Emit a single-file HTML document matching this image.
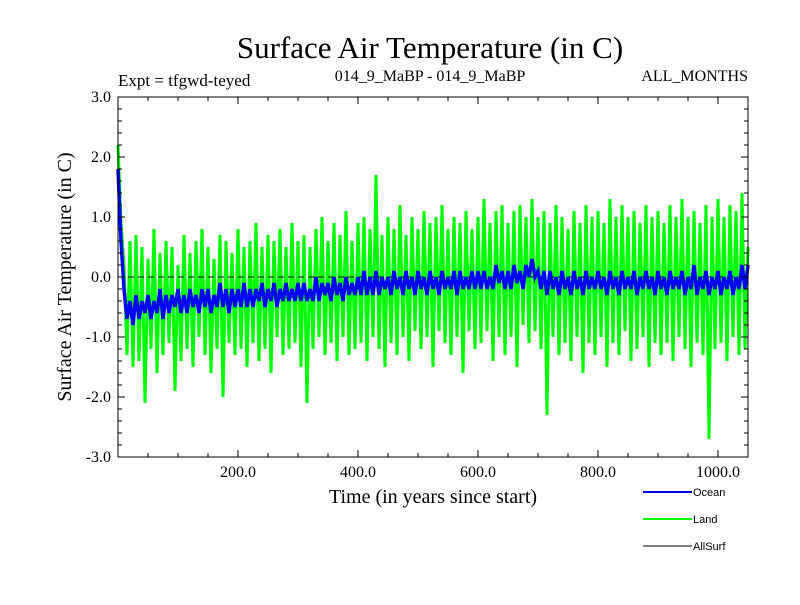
<!DOCTYPE html>
<html><head><meta charset="utf-8"><style>
body{margin:0;background:#fff}
svg text{font-family:"Liberation Serif",serif}
</style></head><body>
<svg id="chart" width="800" height="600" xmlns="http://www.w3.org/2000/svg">
<text x="430" y="58" font-size="31" text-anchor="middle">Surface Air Temperature (in C)</text>
<text x="118" y="86" font-size="17">Expt = tfgwd-teyed</text>
<text x="430" y="81" font-size="16" text-anchor="middle">014_9_MaBP - 014_9_MaBP</text>
<text x="748" y="81" font-size="16" text-anchor="end">ALL_MONTHS</text>
<text x="433" y="503" font-size="20" text-anchor="middle">Time (in years since start)</text>
<text transform="translate(71,277) rotate(-90)" font-size="20" text-anchor="middle">Surface Air Temperature (in C)</text>
<g id="plot"></g>
<g id="axes"></g>
<g>
<line x1="643" y1="492" x2="692" y2="492" stroke="#0000ff" stroke-width="2"/>
<text x="693" y="496" font-size="11" style="font-family:'Liberation Sans',sans-serif">Ocean</text>
<line x1="643" y1="519" x2="692" y2="519" stroke="#00ff00" stroke-width="2"/>
<text x="693" y="523" font-size="11" style="font-family:'Liberation Sans',sans-serif">Land</text>
<line x1="643" y1="546" x2="692" y2="546" stroke="#000" stroke-width="1"/>
<text x="693" y="550" font-size="11" style="font-family:'Liberation Sans',sans-serif">AllSurf</text>
</g>
</svg>
<script>
const yearStep = 5;
const landValues = [
2.2,0.9,0.2,-1.3,0.6,-1.5,0.7,-1.4,0.5,-2.1,
0.3,-1.2,0.8,-1.6,0.4,-1.3,0.6,-1.1,0.5,-1.9,
0.2,-1.4,0.7,-1.2,0.4,-1.5,0.6,-1.0,0.8,-1.3,
0.5,-1.6,0.3,-1.2,0.7,-2.0,0.6,-1.1,0.4,-1.3,
0.8,-1.2,0.5,-1.5,0.6,-1.1,0.9,-1.4,0.5,-1.2,
0.7,-1.6,0.6,-1.0,0.8,-1.3,0.5,-1.2,0.9,-1.1,
0.6,-1.5,0.7,-2.1,0.5,-1.2,0.8,-1.0,1.0,-1.3,
0.6,-1.1,0.9,-1.4,0.7,-1.0,1.1,-1.3,0.6,-1.2,
0.9,-1.1,1.0,-1.4,0.8,-1.0,1.7,-1.2,0.7,-1.5,
1.0,-1.1,0.8,-1.3,1.2,-1.0,0.7,-1.4,1.0,-0.9,
0.8,-1.2,1.1,-1.0,0.9,-1.5,1.0,-0.9,1.2,-1.1,
0.8,-1.3,1.0,-1.0,0.9,-1.6,1.1,-0.9,0.8,-1.2,
1.0,-1.1,1.3,-0.9,0.9,-1.4,1.1,-1.0,1.2,-1.3,
0.9,-1.0,1.1,-1.5,1.2,-0.8,1.0,-1.1,1.3,-0.9,
1.0,-1.2,1.1,-2.3,0.9,-1.0,1.2,-1.3,1.0,-1.1,
0.8,-1.4,1.1,-1.0,0.9,-1.6,1.2,-1.1,1.0,-1.3,
1.1,-1.0,0.9,-1.5,1.3,-1.1,1.0,-1.3,1.2,-0.9,
1.0,-1.4,1.1,-1.2,0.9,-1.0,1.2,-1.5,1.0,-1.1,
1.1,-1.3,0.9,-1.1,1.2,-1.4,1.0,-1.0,1.3,-1.2,
1.0,-1.5,1.1,-1.1,0.9,-1.3,1.2,-2.7,1.0,-1.2,
1.3,-1.1,1.0,-1.4,1.2,-1.0,1.1,-1.3,1.4,-1.2,
0.5];
const oceanValues = [
1.8,0.6,-0.2,-0.7,-0.4,-0.8,-0.3,-0.7,-0.4,-0.6,
-0.3,-0.7,-0.4,-0.6,-0.2,-0.7,-0.3,-0.6,-0.3,-0.5,
-0.2,-0.6,-0.3,-0.6,-0.2,-0.5,-0.3,-0.6,-0.2,-0.5,
-0.2,-0.6,-0.3,-0.5,-0.1,-0.5,-0.2,-0.6,-0.2,-0.5,
-0.2,-0.5,-0.1,-0.5,-0.2,-0.5,-0.2,-0.4,-0.1,-0.5,
-0.2,-0.4,-0.1,-0.5,-0.2,-0.4,-0.1,-0.4,-0.2,-0.4,
-0.1,-0.4,-0.1,-0.4,-0.2,-0.4,0.0,-0.4,-0.1,-0.3,
-0.1,-0.4,0.0,-0.3,-0.1,-0.4,0.0,-0.3,-0.1,-0.3,
0.0,-0.3,0.1,-0.3,0.0,-0.3,0.1,-0.3,0.0,-0.2,
0.0,-0.3,0.1,-0.2,0.0,-0.3,0.1,-0.2,0.0,-0.3,
0.1,-0.2,0.0,-0.3,0.1,-0.2,0.0,-0.3,0.1,-0.2,
0.0,-0.2,0.1,-0.3,0.1,-0.2,0.0,-0.2,0.1,-0.2,
0.1,-0.2,0.1,-0.2,0.0,-0.2,0.2,-0.1,0.1,-0.2,
0.1,-0.2,0.2,-0.1,0.1,-0.2,0.2,0.0,0.3,0.0,
0.1,-0.2,0.1,-0.3,0.1,-0.2,0.0,-0.3,0.1,-0.2,
0.0,-0.3,0.1,-0.2,0.0,-0.3,0.1,-0.2,0.0,-0.2,
0.1,-0.2,0.0,-0.3,0.1,-0.2,0.0,-0.3,0.1,-0.2,
0.0,-0.2,0.1,-0.3,0.0,-0.2,0.1,-0.2,0.0,-0.3,
0.1,-0.2,0.0,-0.3,0.1,-0.2,0.0,-0.2,0.1,-0.3,
0.0,-0.2,0.2,-0.3,0.0,-0.2,0.1,-0.3,0.0,-0.2,
0.1,-0.3,0.0,-0.2,0.1,-0.3,0.0,-0.2,0.2,-0.2,
0.2];
const xTickValues = [200,400,600,800,1000];
const xTickLabels = ["200.0","400.0","600.0","800.0","1000.0"];
const yTickValues = [3,2,1,0,-1,-2,-3];
const yTickLabels = ["3.0","2.0","1.0","0.0","-1.0","-2.0","-3.0"];

const L=118,R=748,T=97,B=457,X0=0,X1=1050,Y0=-3,Y1=3;
const NS='http://www.w3.org/2000/svg';
const xs=v=>L+(v-X0)/(X1-X0)*(R-L);
const ys=v=>B-(v-Y0)/(Y1-Y0)*(B-T);
function mk(tag,attrs,parent){const e=document.createElementNS(NS,tag);for(const k in attrs)e.setAttribute(k,attrs[k]);parent.appendChild(e);return e;}
const plot=document.getElementById('plot'),axes=document.getElementById('axes');
function pts(vals){return vals.map((v,i)=>xs(i*yearStep).toFixed(1)+','+ys(v).toFixed(1)).join(' ');}
const land=mk('polyline',{points:pts(landValues),fill:'none',stroke:'#00ff00','stroke-width':3,'stroke-linejoin':'miter','stroke-miterlimit':2},plot);


const zero=mk('line',{x1:L,x2:R,y1:ys(0),y2:ys(0),stroke:'#000','stroke-dasharray':'6,4'},plot);


const ocean=mk('polyline',{points:pts(oceanValues),fill:'none',stroke:'#0000ff','stroke-width':3.5},plot);


const frame=mk('rect',{x:L,y:T,width:R-L,height:B-T,fill:'none',stroke:'#000'},axes);


for(let v=50;v<X1;v+=50){const maj=v%200===0,len=maj?7:4,x=xs(v);
 mk('line',{x1:x,x2:x,y1:B,y2:B-len,stroke:'#000'},axes);
 mk('line',{x1:x,x2:x,y1:T,y2:T+len,stroke:'#000'},axes);}
for(let v=-2.8;v<3;v+=0.2){const r=Math.round(v*10)/10,maj=Math.abs(r-Math.round(r))<1e-6,len=maj?7:4,y=ys(r);
 mk('line',{x1:L,x2:L+len,y1:y,y2:y,stroke:'#000'},axes);
 mk('line',{x1:R,x2:R-len,y1:y,y2:y,stroke:'#000'},axes);}
xTickValues.forEach((v,i)=>{const t=mk('text',{x:xs(v),y:B+20,'font-size':16,'text-anchor':'middle'},axes);t.textContent=xTickLabels[i];
 
 });
yTickValues.forEach((v,i)=>{const t=mk('text',{x:L-7,y:ys(v)+5,'font-size':16,'text-anchor':'end'},axes);t.textContent=yTickLabels[i];
 
 });
</script>
</body></html>
